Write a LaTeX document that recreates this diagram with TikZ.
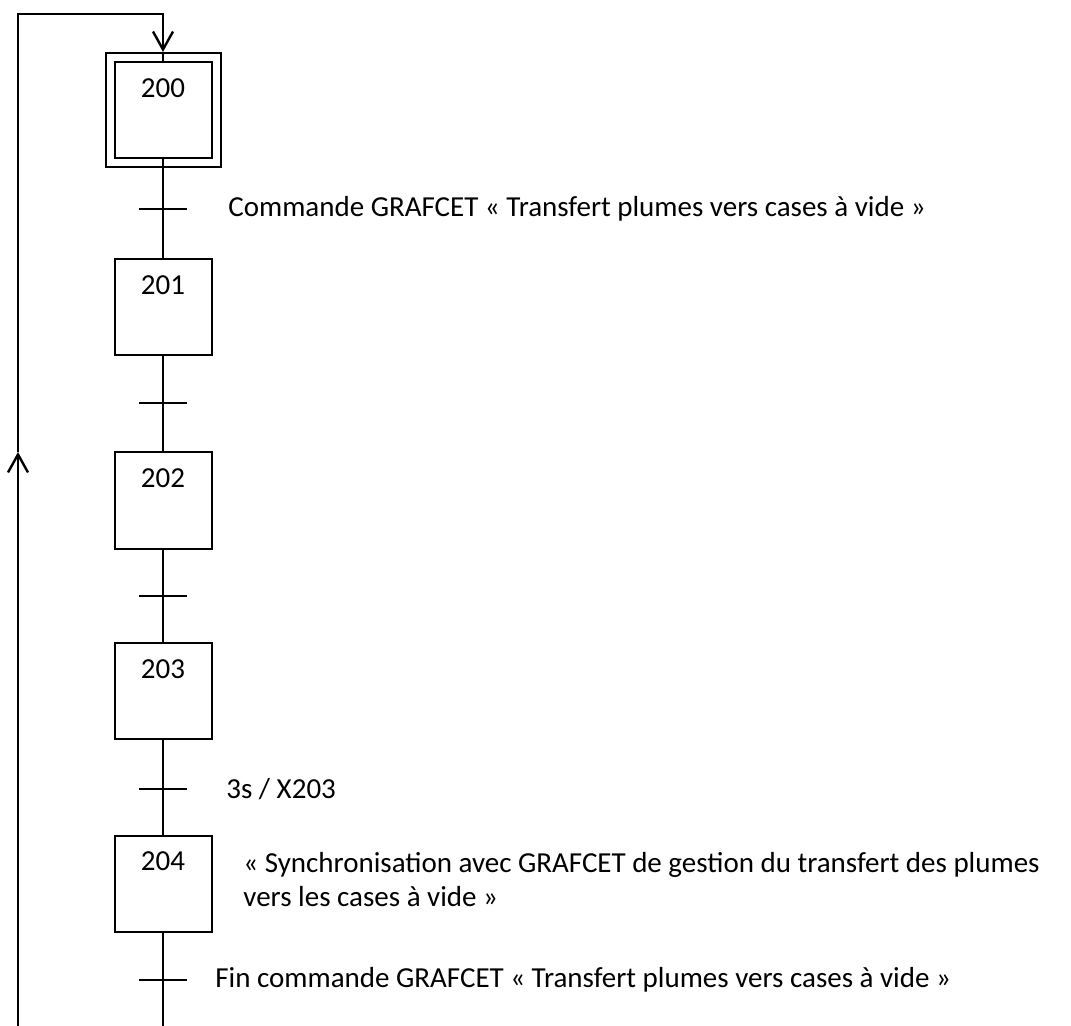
\documentclass[tikz,border=0pt]{standalone}
\usepackage{fontspec}
\setmainfont{Carlito}
\usetikzlibrary{arrows.meta}

\tikzset{
  etape/.style={draw, line width=1pt, minimum width=48.5pt, minimum height=48pt, inner sep=0pt},
  numero/.style={anchor=north, inner sep=8.5pt},
  recep/.style={anchor=west, inner sep=0pt},
  liaison/.style={line width=1.2pt},
  retour/.style={line width=1.4pt},
  fleche/.style={-{Straight Barb[length=9pt,width=10pt,line width=1.2pt]}}
}

\begin{document}
\begin{tikzpicture}[x=0.5pt, y=-0.5pt, font=\fontsize{14.5}{17}\selectfont]
\useasboundingbox (0,0) rectangle (1071,1026);
% etapes
\node [etape, minimum width=57.5pt, minimum height=57pt] (e200x) at (163,110) {};
\node [etape] (e200) at (163,110) {};
\node [etape] (e201) at (163,307) {};
\node [etape] (e202) at (163,500.5) {};
\node [etape] (e203) at (163,691) {};
\node [etape] (e204) at (163,883.5) {};
\node [numero] (n200) at (e200.north) {200};
\node [numero] (n201) at (e201.north) {201};
\node [numero] (n202) at (e202.north) {202};
\node [numero] (n203) at (e203.north) {203};
\node [numero] (n204) at (e204.north) {204};
% transitions
\coordinate (t1) at (163,209);
\coordinate (t2) at (163,403);
\coordinate (t3) at (163,596);
\coordinate (t4) at (163,789);
\coordinate (t5) at (163,980);
\coordinate (fin) at (163,1026);
\draw [liaison] (e200) -- (e201);
\draw [liaison] (e201) -- (e202);
\draw [liaison] (e202) -- (e203);
\draw [liaison] (e203) -- (e204);
\draw [liaison] (e204) -- (fin);
\draw [liaison] (t1) ++(-24,0) -- ++(48,0);
\draw [liaison] (t2) ++(-24,0) -- ++(48,0);
\draw [liaison] (t3) ++(-24,0) -- ++(48,0);
\draw [liaison] (t4) ++(-24,0) -- ++(48,0);
\draw [liaison] (t5) ++(-24,0) -- ++(48,0);
\node [recep] (r1) at (228,209) {Commande GRAFCET « Transfert plumes vers cases à vide »};
\node [recep] (r4) at (226,789) {3s / X203};
\node [recep] (r5) at (215,980) {Fin commande GRAFCET « Transfert plumes vers cases à vide »};
\node [recep, align=left] (a204) at (243,880) {« Synchronisation avec GRAFCET de gestion du transfert des plumes\\vers les cases à vide »};
% rebouclage
\coordinate (bg) at (18,1026);
\coordinate (mg) at (18,452);
\coordinate (hg) at (18,14);
\coordinate (hd) at (163,14);
\draw [retour, fleche] (bg) -- (mg);
\draw [retour, fleche] (mg) -- (hg) -- (hd) -- (e200x.north);
\draw [liaison] (e200x.north) -- (e200.north);
\end{tikzpicture}
\end{document}
